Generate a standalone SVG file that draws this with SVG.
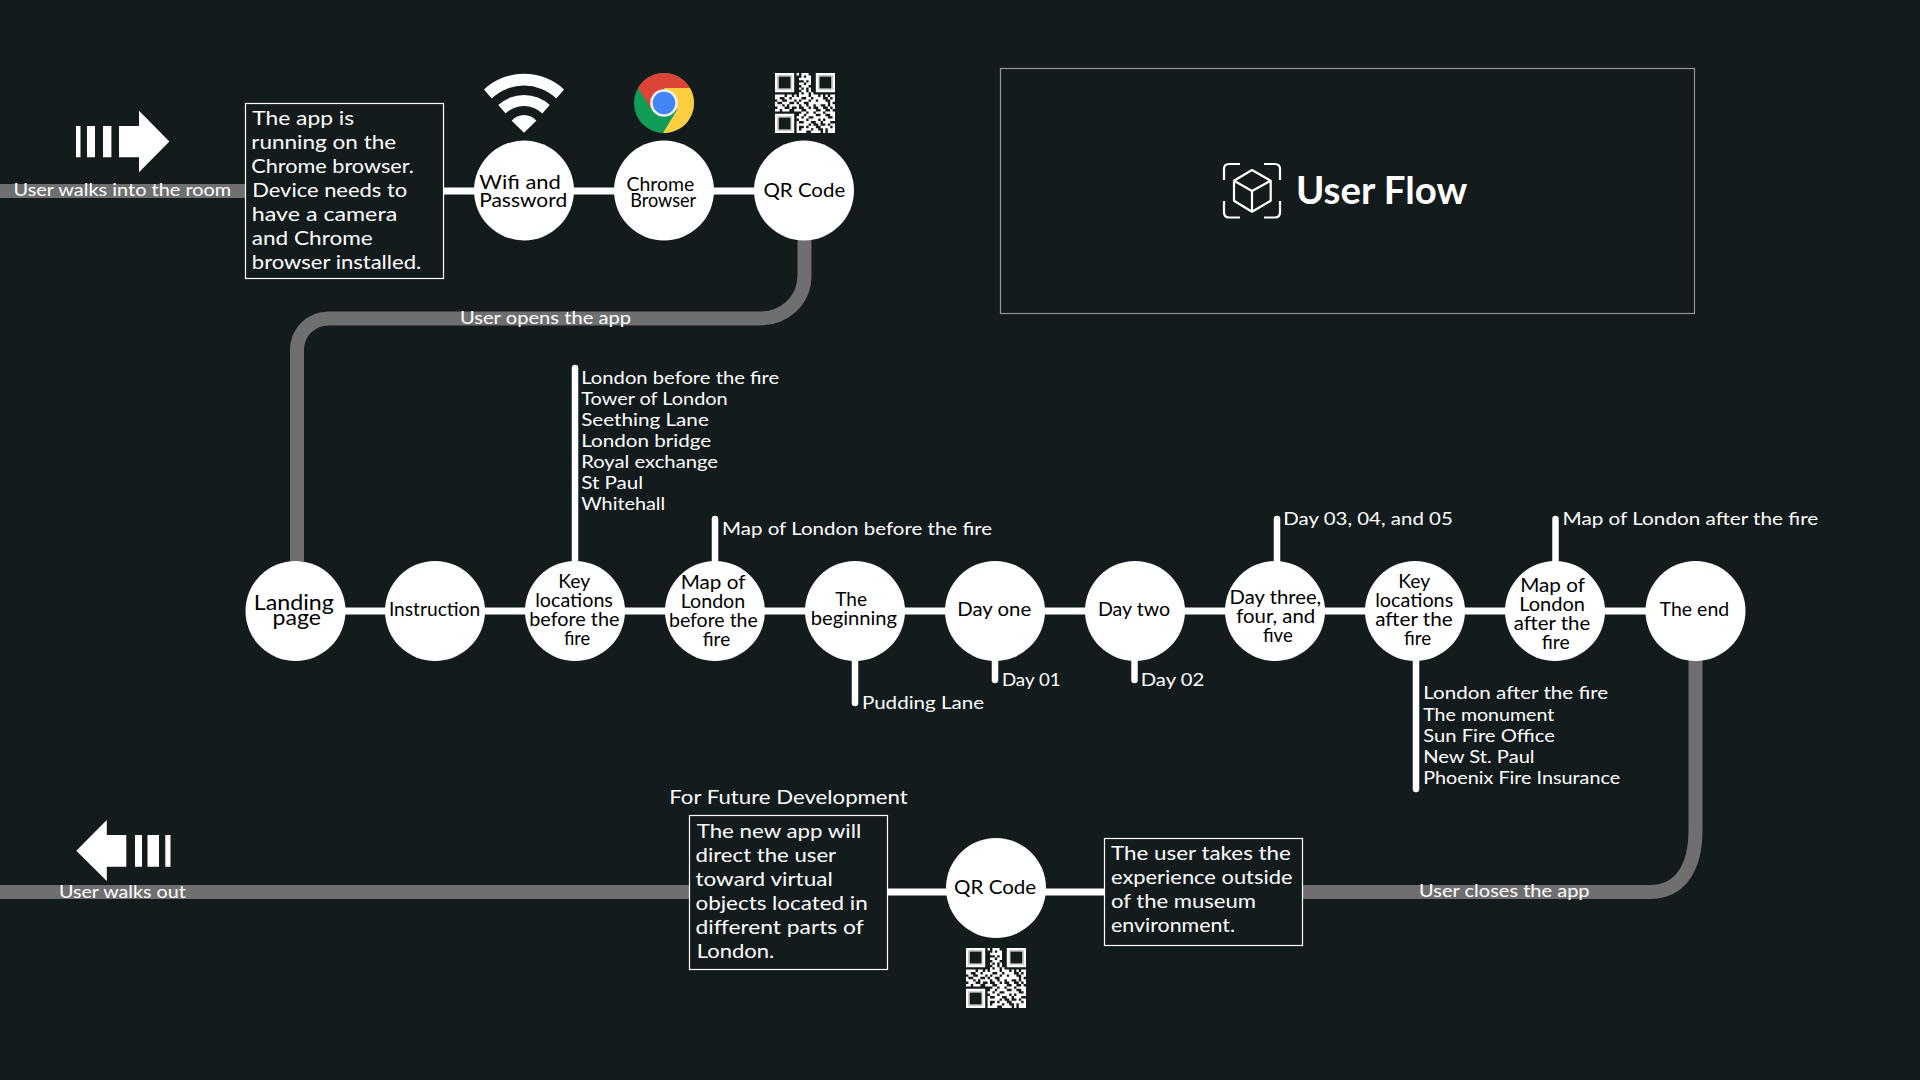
<svg xmlns="http://www.w3.org/2000/svg" width="1920" height="1080" viewBox="0 0 1920 1080">
<style>
text{font-family:"Lato","Open Sans",sans-serif;fill:#fff;font-size:18px;transform:translateX(-.8px)}
.n text{fill:#000;font-size:18.500px}
.box{fill:#141b1d;stroke:#fff;stroke-width:1.200}
.b{font-size:20px}
.walk{fill:none;stroke:#6f6f6f;stroke-width:14}
.link{fill:none;stroke:#fff;stroke-width:7}
.stem{fill:none;stroke:#fff;stroke-width:6.500;stroke-linecap:round}
.disc{fill:#fff}
.qr{fill:none;stroke:#fff;stroke-width:1}
.qrf{fill:none;stroke:#fff;stroke-width:.500}
</style>
<defs>
<g id="qr" transform="scale(2.400)"><path class="qr" d="M0 .5h8m1 0h1m1 0h3m3 0h8M0 1.500h1m6 0h1m3 0h1m1 0h2m2 0h1m6 0h1M0 2.500h1m6 0h1m2 0h5m2 0h1m6 0h1M0 3.500h1m6 0h1m4 0h1m1 0h1m2 0h1m6 0h1M0 4.500h1m6 0h1m2 0h2m1 0h2m2 0h1m6 0h1M0 5.500h1m6 0h1m3 0h3m3 0h1m6 0h1M0 6.500h1m6 0h1m2 0h1m1 0h1m1 0h1m2 0h1m6 0h1M0 7.500h8m3 0h2m1 0h1m2 0h8M10 8.500h1m1 0h2m1 0h1M0 9.500h4m1 0h2m1 0h1m1 0h4m1 0h3m1 0h1m1 0h1m1 0h2M0 10.500h2m2 0h2m1 0h4m2 0h2m1 0h4m2 0h1m1 0h1M1 11.500h2m2 0h3m1 0h1m1 0h3m1 0h2m1 0h3m2 0h2M0 12.500h1m2 0h3m2 0h1m1 0h2m2 0h8m1 0h1M0 13.500h3m1 0h1m1 0h4m1 0h2m1 0h2m1 0h2m2 0h1m1 0h2M1 14.500h3m2 0h1m2 0h1m2 0h2m1 0h1m2 0h2m2 0h1m1 0h1M0 15.500h2m1 0h3m2 0h3m2 0h4m2 0h2m2 0h1M11 16.500h2m1 0h2m1 0h3m1 0h4M0 17.500h8m2 0h2m1 0h4m2 0h2m2 0h2M0 18.500h1m6 0h1m1 0h2m1 0h2m2 0h6m2 0h1M0 19.500h1m6 0h1m2 0h3m1 0h4m1 0h1m1 0h4M0 20.500h1m6 0h1m1 0h1m2 0h3m2 0h2m1 0h3M0 21.500h1m6 0h1m1 0h5m1 0h1m2 0h1m2 0h1m1 0h2M0 22.500h1m6 0h1m1 0h1m2 0h1m1 0h3m2 0h4m1 0h1M0 23.500h1m6 0h1m1 0h1m1 0h4m1 0h2m2 0h1m1 0h3M0 24.500h8m1 0h4m2 0h4m1 0h1m1 0h3"/><path class="qrf" d="M1.250 1.250h5.500v5.500h-5.500zM18.250 1.250h5.500v5.500h-5.500zM1.250 18.250h5.500v5.500h-5.500z"/></g>
</defs>
<rect width="1920" height="1080" fill="#141b1d"/>

<g id="connectors">
<path class="walk" d="M0 191H245"/>
<path class="walk" d="M804.500 240V275C804.500 303 782 318.500 760 318.500H329C311 318.500 297 332 297 350V561"/>
<path class="walk" d="M1695.500 660V830C1695.500 868 1680 892 1650 892H1303"/>
<path class="walk" d="M0 892H689"/>
<path class="link" d="M443 191H804"/>
<path class="link" d="M295 611H1696"/>
<path class="link" d="M888 892H1105"/>
<path class="stem" d="M575 561V368"/>
<path class="stem" d="M715 561V519"/>
<path class="stem" d="M855 660V703"/>
<path class="stem" d="M995 660V680"/>
<path class="stem" d="M1134.500 660V680"/>
<path class="stem" d="M1277 561V519"/>
<path class="stem" d="M1416 660V789"/>
<path class="stem" d="M1555.500 561V519"/>
</g>

<g id="walk-in">
<path fill="#fff" d="M76 126h4.500v31.300H76zM87 126h8v31.300h-8zM103 126h8.400v31.300H103zM119 126h20v-15.300L169.400 141.500 139 172.300v-15H119z"/>
<text x="14.300" y="196" textLength="217.700" lengthAdjust="spacingAndGlyphs">User walks into the room</text>
</g>

<g id="note-app">
<rect class="box" x="245.500" y="103.500" width="198" height="175"/>
<text class="b" x="253" y="125" textLength="102" lengthAdjust="spacingAndGlyphs">The app is</text>
<text class="b" x="252" y="149" textLength="145" lengthAdjust="spacingAndGlyphs">running on the</text>
<text class="b" x="252" y="173" textLength="162.700" lengthAdjust="spacingAndGlyphs">Chrome browser.</text>
<text class="b" x="253" y="197" textLength="155" lengthAdjust="spacingAndGlyphs">Device needs to</text>
<text class="b" x="252.600" y="221" textLength="145.400" lengthAdjust="spacingAndGlyphs">have a camera</text>
<text class="b" x="252.600" y="245" textLength="121" lengthAdjust="spacingAndGlyphs">and Chrome</text>
<text class="b" x="252.600" y="268.500" textLength="169.400" lengthAdjust="spacingAndGlyphs">browser installed.</text>
</g>

<g id="wifi" class="n">
<path fill="#fff" d="M484 89.400A59 59 0 0 1 564 89.400L556.300 98.400A47 47 0 0 0 491.700 98.400ZM498.300 105A38 38 0 0 1 549.700 105L542.300 113.400A26.600 26.600 0 0 0 505.700 113.400ZM524 132.700L511.700 120.700A16 16 0 0 1 536.300 120.700Z"/>
<circle class="disc" cx="524" cy="190.500" r="50"/>
<text x="480" y="189" style="font-size:20px" textLength="81.700" lengthAdjust="spacingAndGlyphs">Wifi and</text>
<text x="480" y="207.300" style="font-size:20px" textLength="88" lengthAdjust="spacingAndGlyphs">Password</text>
</g>

<g id="chrome" class="n">
<circle cx="664" cy="103" r="30" fill="#0f9d58"/>
<path fill="#db4437" d="M638 88A30 30 0 0 1 690 88H664L652 110Z"/>
<path fill="#ffcd40" d="M690 88A30 30 0 0 1 663 133L677 110L664 88Z"/>
<circle cx="664" cy="103" r="13.800" fill="#f1f1f1"/>
<circle cx="664" cy="103" r="11.300" fill="#4285f4"/>
<circle class="disc" cx="664" cy="190.500" r="50"/>
<text x="627.300" y="191" textLength="67.700" lengthAdjust="spacingAndGlyphs">Chrome</text>
<text x="631" y="207" textLength="66" lengthAdjust="spacingAndGlyphs">Browser</text>
</g>

<g id="qr-1" class="n">
<use href="#qr" x="775" y="73"/>
<circle class="disc" cx="804" cy="190.500" r="50"/>
<text x="764.300" y="196.700" style="font-size:20px" textLength="81.700" lengthAdjust="spacingAndGlyphs">QR Code</text>
</g>

<g id="title">
<rect x="1000.500" y="68.500" width="694" height="245" fill="none" stroke="#8f9496" stroke-width="1.200"/>
<path fill="none" stroke="#fff" stroke-width="2.200" stroke-linejoin="round" d="M1224 180V169Q1224 164 1229 164H1240M1264 164H1275Q1280 164 1280 169V180M1280 201V212Q1280 217.500 1275 217.500H1264M1240 217.500H1229Q1224 217.500 1224 212V201M1252 170L1270.700 180.700V200.700L1252 211.700L1234 200.700V180.700ZM1234 180.700L1252 191L1270.700 180.700M1252 191V211.700"/>
<text x="1296.700" y="204" font-weight="700" style="font-size:38px" textLength="171.300" lengthAdjust="spacingAndGlyphs">User Flow</text>
</g>

<text x="460.700" y="324" textLength="171.300" lengthAdjust="spacingAndGlyphs">User opens the app</text>

<g id="landing" class="n"><circle class="disc" cx="295.500" cy="611" r="50"/>
<text x="254.500" y="610" style="font-size:21px" textLength="80.100" lengthAdjust="spacingAndGlyphs">Landing</text>
<text x="273.400" y="625" style="font-size:21px" textLength="48.400" lengthAdjust="spacingAndGlyphs">page</text></g>

<g id="instruction" class="n"><circle class="disc" cx="435" cy="611" r="50"/>
<text x="389.700" y="615.700" textLength="91.300" lengthAdjust="spacingAndGlyphs">Instruction</text></g>

<g id="key-before" class="n"><circle class="disc" cx="575" cy="611" r="50"/>
<text x="559" y="588.300" textLength="32" lengthAdjust="spacingAndGlyphs">Key</text>
<text x="536" y="607.300" textLength="77.700" lengthAdjust="spacingAndGlyphs">locations</text>
<text x="530" y="626" textLength="90.300" lengthAdjust="spacingAndGlyphs">before the</text>
<text x="564.700" y="644.700" textLength="26.300" lengthAdjust="spacingAndGlyphs">fire</text></g>

<g id="map-before" class="n"><circle class="disc" cx="715" cy="611" r="50"/>
<text x="681.500" y="589" textLength="64.800" lengthAdjust="spacingAndGlyphs">Map of</text>
<text x="681.500" y="608.300" textLength="64.500" lengthAdjust="spacingAndGlyphs">London</text>
<text x="669.800" y="627.300" textLength="88.800" lengthAdjust="spacingAndGlyphs">before the</text>
<text x="703.500" y="646" textLength="27.500" lengthAdjust="spacingAndGlyphs">fire</text></g>

<g id="beginning" class="n"><circle class="disc" cx="855" cy="611" r="50"/>
<text x="836" y="606" textLength="31.800" lengthAdjust="spacingAndGlyphs">The</text>
<text x="811.600" y="625" textLength="86.300" lengthAdjust="spacingAndGlyphs">beginning</text></g>

<g id="day-one" class="n"><circle class="disc" cx="995" cy="611" r="50"/>
<text x="958" y="615.700" textLength="74" lengthAdjust="spacingAndGlyphs">Day one</text></g>

<g id="day-two" class="n"><circle class="disc" cx="1135" cy="611" r="50"/>
<text x="1098.700" y="616" textLength="72.300" lengthAdjust="spacingAndGlyphs">Day two</text></g>

<g id="day-three" class="n"><circle class="disc" cx="1275" cy="611" r="50"/>
<text x="1230.400" y="604.300" textLength="91.600" lengthAdjust="spacingAndGlyphs">Day three,</text>
<text x="1237" y="622.700" textLength="79" lengthAdjust="spacingAndGlyphs">four, and</text>
<text x="1263.800" y="641.700" textLength="29.700" lengthAdjust="spacingAndGlyphs">five</text></g>

<g id="key-after" class="n"><circle class="disc" cx="1415" cy="611" r="50"/>
<text x="1399" y="588.300" textLength="32" lengthAdjust="spacingAndGlyphs">Key</text>
<text x="1376" y="607.300" textLength="78" lengthAdjust="spacingAndGlyphs">locations</text>
<text x="1376" y="626" textLength="77.600" lengthAdjust="spacingAndGlyphs">after the</text>
<text x="1404.800" y="645" textLength="27.200" lengthAdjust="spacingAndGlyphs">fire</text></g>

<g id="map-after" class="n"><circle class="disc" cx="1555" cy="611" r="50"/>
<text x="1521" y="591.700" textLength="64.800" lengthAdjust="spacingAndGlyphs">Map of</text>
<text x="1520" y="610.700" textLength="65.800" lengthAdjust="spacingAndGlyphs">London</text>
<text x="1514.500" y="630" textLength="76.500" lengthAdjust="spacingAndGlyphs">after the</text>
<text x="1542.500" y="649" textLength="28" lengthAdjust="spacingAndGlyphs">fire</text></g>

<g id="the-end" class="n"><circle class="disc" cx="1695.500" cy="611" r="50"/>
<text x="1660.400" y="616" textLength="69.600" lengthAdjust="spacingAndGlyphs">The end</text></g>

<g id="labels">
<text x="582" y="384.300" textLength="198" lengthAdjust="spacingAndGlyphs">London before the fire</text>
<text x="582" y="405" textLength="146.500" lengthAdjust="spacingAndGlyphs">Tower of London</text>
<text x="582" y="426" textLength="127.600" lengthAdjust="spacingAndGlyphs">Seething Lane</text>
<text x="582" y="447" textLength="130" lengthAdjust="spacingAndGlyphs">London bridge</text>
<text x="582" y="468" textLength="136.800" lengthAdjust="spacingAndGlyphs">Royal exchange</text>
<text x="582" y="488.700" textLength="62" lengthAdjust="spacingAndGlyphs">St Paul</text>
<text x="582" y="509.700" textLength="84" lengthAdjust="spacingAndGlyphs">Whitehall</text>
<text x="722.900" y="535" textLength="269.900" lengthAdjust="spacingAndGlyphs">Map of London before the fire</text>
<text x="862.700" y="709" textLength="122.300" lengthAdjust="spacingAndGlyphs">Pudding Lane</text>
<text x="1002.700" y="685.500" textLength="58.700" lengthAdjust="spacingAndGlyphs">Day 01</text>
<text x="1141.500" y="685.500" textLength="63.500" lengthAdjust="spacingAndGlyphs">Day 02</text>
<text x="1284" y="525" textLength="169.600" lengthAdjust="spacingAndGlyphs">Day 03, 04, and 05</text>
<text x="1563.300" y="525" textLength="255.700" lengthAdjust="spacingAndGlyphs">Map of London after the fire</text>
<text x="1424" y="699.300" textLength="184.900" lengthAdjust="spacingAndGlyphs">London after the fire</text>
<text x="1424" y="721" textLength="131" lengthAdjust="spacingAndGlyphs">The monument</text>
<text x="1424" y="741.700" textLength="131.700" lengthAdjust="spacingAndGlyphs">Sun Fire Office</text>
<text x="1424" y="762.700" textLength="111.400" lengthAdjust="spacingAndGlyphs">New St. Paul</text>
<text x="1424" y="783.800" textLength="197" lengthAdjust="spacingAndGlyphs">Phoenix Fire Insurance</text>
<text x="1419.900" y="896.700" textLength="170.500" lengthAdjust="spacingAndGlyphs">User closes the app</text>
</g>

<g id="note-future">
<text x="670" y="804" style="font-size:19px" textLength="238.600" lengthAdjust="spacingAndGlyphs">For Future Development</text>
<rect class="box" x="689.500" y="815.500" width="198" height="154"/>
<text class="b" x="697.500" y="838" textLength="164.500" lengthAdjust="spacingAndGlyphs">The new app will</text>
<text class="b" x="696.300" y="862" textLength="140.700" lengthAdjust="spacingAndGlyphs">direct the user</text>
<text class="b" x="696.300" y="886" textLength="137.200" lengthAdjust="spacingAndGlyphs">toward virtual</text>
<text class="b" x="696.300" y="910" textLength="172.200" lengthAdjust="spacingAndGlyphs">objects located in</text>
<text class="b" x="696.300" y="934" textLength="168.200" lengthAdjust="spacingAndGlyphs">different parts of</text>
<text class="b" x="697.500" y="958" textLength="77.500" lengthAdjust="spacingAndGlyphs">London.</text>
</g>

<g id="qr-2" class="n">
<circle class="disc" cx="996" cy="888" r="50"/>
<text x="954.900" y="894" style="font-size:20px" textLength="82.100" lengthAdjust="spacingAndGlyphs">QR Code</text>
<use href="#qr" x="966" y="948"/>
</g>

<g id="note-outside">
<rect class="box" x="1104.500" y="838.500" width="198" height="107"/>
<text class="b" x="1111.800" y="860" textLength="179.900" lengthAdjust="spacingAndGlyphs">The user takes the</text>
<text class="b" x="1111.800" y="884" textLength="181.500" lengthAdjust="spacingAndGlyphs">experience outside</text>
<text class="b" x="1111.800" y="908" textLength="144.900" lengthAdjust="spacingAndGlyphs">of the museum</text>
<text class="b" x="1111.800" y="932" textLength="124" lengthAdjust="spacingAndGlyphs">environment.</text>
</g>

<g id="walk-out">
<path fill="#fff" d="M76.300 850.700L106.800 820v15h19.500v31.700h-19.500V881ZM135 835h7v31.700h-7zM147.500 835h11.500v31.700h-11.500zM165.300 835h5.200v31.700h-5.200z"/>
<text x="59.700" y="897.700" textLength="126.900" lengthAdjust="spacingAndGlyphs">User walks out</text>
</g>
</svg>
